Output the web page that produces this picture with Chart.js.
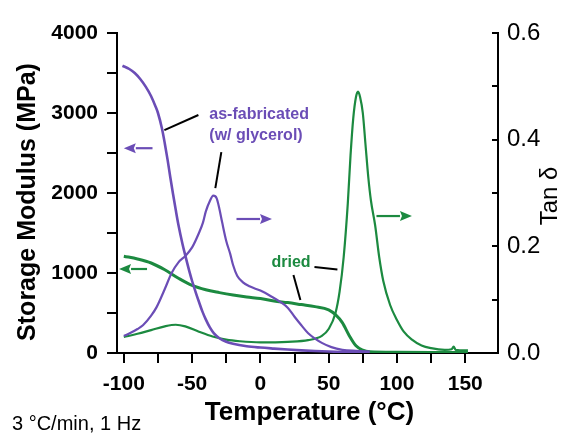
<!DOCTYPE html>
<html>
<head>
<meta charset="utf-8">
<script src="https://cdn.jsdelivr.net/npm/chart.js@4.4.0/dist/chart.umd.min.js"></script>
<style>
  html, body { margin: 0; padding: 0; background: #fff; }
  #wrap { width: 563px; height: 434px; }
</style>
</head>
<body>
<div id="wrap"><canvas id="dma" width="563" height="434"></canvas></div>
<script>
// --- data ---
// as-fabricated (w/ glycerol): storage modulus (MPa)
const asFabModTemp = [-101, -96, -92, -88, -84, -80, -77, -75, -72, -70, -68, -66, -64, -62, -60, -57, -55, -52, -50, -47, -45, -42.5, -40, -37, -34, -30, -25, -20, -10, 0, 10, 20, 30, 40, 50, 60, 70, 80];
const asFabMod = [3590, 3550, 3500, 3425, 3330, 3210, 3090, 3000, 2800, 2620, 2420, 2200, 1990, 1790, 1600, 1360, 1220, 1020, 900, 740, 640, 520, 420, 320, 245, 185, 140, 115, 85, 68, 55, 43, 33, 25, 18, 13, 9, 6];

// as-fabricated: tan delta
const asFabTanTemp = [-100, -95, -90, -86, -80, -76, -70, -65, -60, -55, -50, -45, -42, -40, -37, -34.5, -32, -30, -28, -25, -22, -20, -17, -13, -8, 0, 8, 15, 20, 25, 30, 35, 40, 45, 52, 60, 70, 80];
const asFabTan = [0.032, 0.038, 0.045, 0.052, 0.070, 0.086, 0.120, 0.150, 0.170, 0.182, 0.198, 0.225, 0.245, 0.265, 0.285, 0.295, 0.290, 0.270, 0.245, 0.210, 0.185, 0.165, 0.145, 0.133, 0.125, 0.117, 0.106, 0.095, 0.085, 0.068, 0.052, 0.037, 0.027, 0.019, 0.011, 0.006, 0.004, 0.003];

// dried: storage modulus (MPa)
const driedModTemp = [-100, -90, -80, -70, -60, -50, -40, -30, -20, -10, 0, 10, 20, 30, 40, 50, 55, 60, 65, 70, 75, 80, 100, 125, 152];
const driedMod = [1210, 1175, 1125, 1040, 935, 845, 790, 755, 725, 700, 680, 650, 630, 605, 580, 540, 480, 380, 220, 90, 35, 15, 8, 6, 5];

// dried: tan delta
const driedTanTemp = [-100, -90, -80, -70, -62, -55, -45, -35, -25, -15, 0, 20, 35, 45, 50, 55, 58, 61, 64, 66, 68, 70, 71.5, 73, 75, 77, 79, 81, 84, 87, 90, 95, 100, 105, 111, 118, 125, 135, 140, 141.5, 143, 150, 152];
const driedTan = [0.030, 0.036, 0.043, 0.050, 0.053, 0.050, 0.040, 0.031, 0.025, 0.022, 0.020, 0.021, 0.024, 0.032, 0.045, 0.075, 0.115, 0.180, 0.280, 0.370, 0.440, 0.480, 0.490, 0.480, 0.450, 0.390, 0.330, 0.285, 0.240, 0.180, 0.135, 0.090, 0.062, 0.040, 0.025, 0.014, 0.009, 0.006, 0.007, 0.012, 0.006, 0.005, 0.005];

const PURPLE = "#6b4db6";
const GREEN = "#1c8a40";
const FONT = "'Liberation Sans', Arial, Helvetica, sans-serif";

const pts = (xs, ys) => xs.map((x, i) => ({ x, y: ys[i] }));

// annotations, in data units (temperature, modulus)
const arrows = [
  { from: [-79, 2560], to: [-100, 2560], color: PURPLE },
  { from: [-17.5, 1675], to: [8.5, 1675], color: PURPLE },
  { from: [-83, 1050], to: [-103.5, 1050], color: GREEN },
  { from: [85, 1712], to: [111, 1712], color: GREEN }
];
const leaders = [
  [[-70.3, 2787], [-45.4, 2975]],
  [[-28.6, 2512], [-33, 2062]],
  [[39.6, 1075], [56.4, 1045]],
  [[24.2, 975], [29.3, 662]]
];
const notes = [
  { text: "as-fabricated", at: [-37.4, 2925], color: PURPLE },
  { text: "(w/ glycerol)", at: [-37.4, 2662], color: PURPLE },
  { text: "dried", at: [8.1, 1075], color: GREEN }
];

const decorPlugin = {
  id: "decor",
  afterDatasetsDraw(chart) {
    const { ctx, scales: { x, y } } = chart;
    const px = (p) => [x.getPixelForValue(p[0]), y.getPixelForValue(p[1])];
    ctx.save();
    // leader lines
    ctx.strokeStyle = "#000";
    ctx.lineWidth = 2;
    leaders.forEach(([a, b]) => {
      const [x1, y1] = px(a), [x2, y2] = px(b);
      ctx.beginPath();
      ctx.moveTo(x1, y1);
      ctx.lineTo(x2, y2);
      ctx.stroke();
    });
    // arrows
    arrows.forEach((ar) => {
      const [x1, y1] = px(ar.from), [x2, y2] = px(ar.to);
      const dir = Math.sign(x2 - x1);
      const head = 12;
      ctx.strokeStyle = ar.color;
      ctx.fillStyle = ar.color;
      ctx.lineWidth = 2.2;
      ctx.beginPath();
      ctx.moveTo(x1, y1);
      ctx.lineTo(x2 - dir * head, y2);
      ctx.stroke();
      ctx.beginPath();
      ctx.moveTo(x2, y2);
      ctx.lineTo(x2 - dir * head, y2 - 5);
      ctx.lineTo(x2 - dir * (head - 2), y2);
      ctx.lineTo(x2 - dir * head, y2 + 5);
      ctx.closePath();
      ctx.fill();
    });
    // labels
    ctx.font = "bold 16px " + FONT;
    ctx.textAlign = "left";
    ctx.textBaseline = "alphabetic";
    notes.forEach((n) => {
      const [tx, ty] = px(n.at);
      ctx.fillStyle = n.color;
      ctx.fillText(n.text, tx, ty);
    });
    ctx.restore();
  },
  afterDraw(chart) {
    const { ctx, chartArea } = chart;
    ctx.save();
    ctx.fillStyle = "#000";
    ctx.textAlign = "center";
    ctx.textBaseline = "alphabetic";
    // x title
    ctx.font = "bold 26px " + FONT;
    ctx.fillText("Temperature (°C)", (chartArea.left + chartArea.right) / 2 + 2, 420);
    // left title
    ctx.save();
    ctx.translate(35, (chartArea.top + chartArea.bottom) / 2 + 9);
    ctx.rotate(-Math.PI / 2);
    ctx.font = "bold 25px " + FONT;
    ctx.fillText("Storage Modulus (MPa)", 0, 0);
    ctx.restore();
    // right title
    ctx.save();
    ctx.translate(557, 196);
    ctx.rotate(-Math.PI / 2);
    ctx.font = "24px " + FONT;
    ctx.fillText("Tan δ", 0, 0);
    ctx.restore();
    // footer
    ctx.font = "20px " + FONT;
    ctx.textAlign = "left";
    ctx.fillText("3 °C/min, 1 Hz", 12, 430);
    ctx.restore();
  }
};

const axisFont = { family: FONT, size: 21, weight: "bold" };

new Chart(document.getElementById("dma"), {
  type: "line",
  data: {
    datasets: [
      { data: pts(asFabModTemp, asFabMod), yAxisID: "y", borderColor: PURPLE, borderWidth: 2.6 },
      { data: pts(asFabTanTemp, asFabTan), yAxisID: "y1", borderColor: PURPLE, borderWidth: 2.2 },
      { data: pts(driedModTemp, driedMod), yAxisID: "y", borderColor: GREEN, borderWidth: 3 },
      { data: pts(driedTanTemp, driedTan), yAxisID: "y1", borderColor: GREEN, borderWidth: 2.2 }
    ]
  },
  options: {
    responsive: false,
    devicePixelRatio: 1,
    animation: false,
    layout: { padding: { top: 33, left: 0, right: 0, bottom: 0 } },
    elements: {
      point: { radius: 0 },
      line: { cubicInterpolationMode: "monotone", fill: false }
    },
    plugins: { legend: { display: false }, tooltip: { enabled: false } },
    scales: {
      x: {
        type: "linear",
        min: -105,
        max: 174,
        afterFit: (s) => { s.height = 81; },
        border: { display: true, color: "#000", width: 2 },
        grid: { drawOnChartArea: false, tickLength: 10, color: "#000", lineWidth: 2 },
        ticks: {
          stepSize: 25,
          includeBounds: false,
          autoSkip: false,
          maxRotation: 0,
          padding: 9,
          color: "#000",
          font: axisFont,
          callback: (v) => (v % 50 === 0 ? String(v) : "")
        }
      },
      y: {
        position: "left",
        min: 0,
        max: 4000,
        afterFit: (s) => { s.width = 117; },
        border: { display: true, color: "#000", width: 2 },
        grid: { drawOnChartArea: false, tickLength: 10, color: "#000", lineWidth: 2 },
        ticks: {
          stepSize: 500,
          padding: 9,
          color: "#000",
          font: axisFont,
          callback: (v) => (v % 1000 === 0 ? String(v) : "")
        }
      },
      y1: {
        position: "right",
        min: 0,
        max: 0.6,
        afterFit: (s) => { s.width = 65; },
        border: { display: true, color: "#000", width: 2 },
        grid: { drawOnChartArea: false, tickLength: -6, color: "#000", lineWidth: 2 },
        ticks: {
          stepSize: 0.1,
          padding: 15,
          color: "#000",
          font: { family: FONT, size: 24 },
          callback: (v) => (Math.round(v * 10) % 2 === 0 ? v.toFixed(1) : "")
        }
      }
    }
  },
  plugins: [decorPlugin]
});
</script>
</body>
</html>
